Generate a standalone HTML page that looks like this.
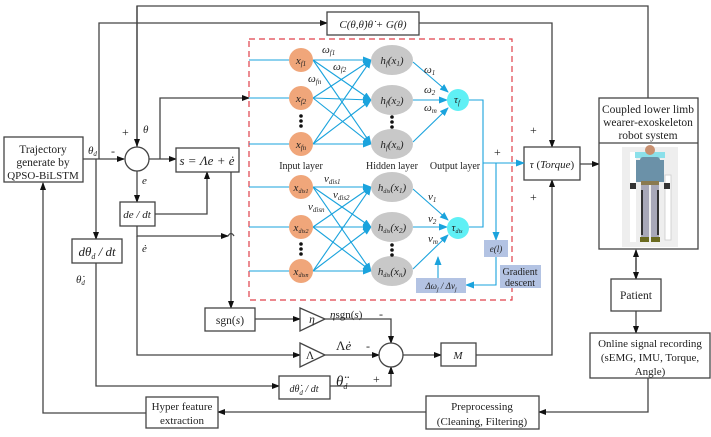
<!DOCTYPE html>
<html><head><meta charset="utf-8"><style>
html,body{margin:0;padding:0;background:#fff}
svg{display:block}
text{font-family:"Liberation Serif","Times New Roman",serif;fill:#222}
.m{font-style:italic}
</style></head><body>
<svg width="711" height="437" viewBox="0 0 711 437" xmlns="http://www.w3.org/2000/svg">
<defs>
<marker id="a" markerWidth="8" markerHeight="8" refX="7" refY="4" orient="auto" markerUnits="userSpaceOnUse"><path d="M0,1 L8,4 L0,7 z" fill="#111"/></marker>
<marker id="c" markerWidth="9" markerHeight="8" refX="8" refY="4" orient="auto" markerUnits="userSpaceOnUse"><path d="M0,0.5 L9,4 L0,7.5 z" fill="#1aa3dd"/></marker>
</defs>
<g fill="none" stroke="#444" stroke-width="1.3">
<polyline points="137,147 137,6 648,6 648,98"/>
<polyline points="99,159 99,23 327,23" marker-end="url(#a)"/>
<polyline points="419,23 552,23 552,147" marker-end="url(#a)"/>
<line x1="137" y1="6" x2="137" y2="146" marker-end="url(#a)"/>
<line x1="83" y1="159" x2="124" y2="159" marker-end="url(#a)"/>
<polyline points="96,159 96,239" marker-end="url(#a)"/>
<polyline points="96,263 96,386 279,386" marker-end="url(#a)"/>
<line x1="149" y1="159" x2="176" y2="159" marker-end="url(#a)"/>
<polyline points="160,159 160,98 249,98" marker-end="url(#a)"/>
<line x1="137" y1="171" x2="137" y2="202" marker-end="url(#a)"/>
<polyline points="155,214 207,214 207,172" marker-end="url(#a)"/>
<polyline points="231,172 231,308" marker-end="url(#a)"/>
<polyline points="137,226 137,236 228,236 M234,236 248,236" marker-end="url(#a)"/>
<path d="M228,236 Q231,231 234,236"/>
<polyline points="137,236 137,355 300,355" marker-end="url(#a)"/>
<line x1="255" y1="319" x2="300" y2="319" marker-end="url(#a)"/>
<polyline points="325,319 391,319 391,343" marker-end="url(#a)"/>
<line x1="325" y1="355" x2="379" y2="355" marker-end="url(#a)"/>
<polyline points="330,386 391,386 391,367" marker-end="url(#a)"/>
<line x1="403" y1="355" x2="441" y2="355" marker-end="url(#a)"/>
<polyline points="476,355 552,355 552,180" marker-end="url(#a)"/>
<line x1="580" y1="164" x2="599" y2="164" marker-end="url(#a)"/>
<line x1="636" y1="258" x2="636" y2="279" marker-end="url(#a)"/>
<line x1="636" y1="270" x2="636" y2="250" marker-end="url(#a)"/>
<line x1="636" y1="311" x2="636" y2="333" marker-end="url(#a)"/>
<polyline points="648,378 648,412 539,412" marker-end="url(#a)"/>
<line x1="426" y1="412" x2="218" y2="412" marker-end="url(#a)"/>
<polyline points="146,413 43,413 43,183" marker-end="url(#a)"/>
<rect x="4" y="137" width="79" height="45" fill="#fff"/>
<rect x="327" y="12" width="92" height="23" fill="#fff"/>
<rect x="176" y="148" width="63" height="24" fill="#fff"/>
<rect x="120" y="202" width="35" height="24" fill="#fff"/>
<rect x="72" y="239" width="50" height="24" fill="#fff"/>
<rect x="524" y="147" width="56" height="33" fill="#fff"/>
<rect x="599" y="98" width="99" height="151" fill="#fff"/>
<line x1="599" y1="143" x2="698" y2="143"/>
<rect x="611" y="279" width="50" height="32" fill="#fff"/>
<rect x="590" y="333" width="120" height="45" fill="#fff"/>
<rect x="426" y="396" width="113" height="33" fill="#fff"/>
<rect x="146" y="397" width="72" height="31" fill="#fff"/>
<rect x="205" y="308" width="50" height="23" fill="#fff"/>
<rect x="441" y="343" width="35" height="23" fill="#fff"/>
<rect x="279" y="376" width="51" height="23" fill="#fff"/>
<polygon points="300,308 325,319 300,331" fill="#fff"/>
<polygon points="300,343 325,355 300,367" fill="#fff"/>
<circle cx="137" cy="159" r="12" fill="#fff"/>
<circle cx="391" cy="355" r="12" fill="#fff"/>
</g>
<rect x="249" y="39" width="263" height="261" fill="none" stroke="#e0404a" stroke-width="1.2" stroke-dasharray="6,4"/>
<g stroke="#1aa3dd" stroke-width="1.1" fill="none">
<line x1="249" y1="60" x2="289" y2="60"/><line x1="249" y1="98" x2="289" y2="98"/><line x1="249" y1="144" x2="289" y2="144"/>
<line x1="249" y1="187" x2="289" y2="187"/><line x1="249" y1="227" x2="289" y2="227"/><line x1="249" y1="271" x2="289" y2="271"/>
<g marker-end="url(#c)">
<line x1="313" y1="60" x2="371" y2="60"/><line x1="313" y1="60" x2="371" y2="100"/><line x1="313" y1="60" x2="371" y2="144"/>
<line x1="313" y1="98" x2="371" y2="60"/><line x1="313" y1="98" x2="371" y2="100"/><line x1="313" y1="98" x2="371" y2="144"/>
<line x1="313" y1="144" x2="371" y2="60"/><line x1="313" y1="144" x2="371" y2="100"/><line x1="313" y1="144" x2="371" y2="144"/>
<line x1="313" y1="187" x2="371" y2="187"/><line x1="313" y1="187" x2="371" y2="227"/><line x1="313" y1="187" x2="371" y2="271"/>
<line x1="313" y1="227" x2="371" y2="187"/><line x1="313" y1="227" x2="371" y2="227"/><line x1="313" y1="227" x2="371" y2="271"/>
<line x1="313" y1="271" x2="371" y2="187"/><line x1="313" y1="271" x2="371" y2="227"/><line x1="313" y1="271" x2="371" y2="271"/>
<line x1="413" y1="62" x2="448" y2="92"/><line x1="413" y1="100" x2="447" y2="100"/><line x1="413" y1="142" x2="448" y2="108"/>
<line x1="413" y1="189" x2="448" y2="220"/><line x1="413" y1="227" x2="447" y2="227"/><line x1="413" y1="269" x2="448" y2="235"/>
<polyline points="483,163 524,163"/>
<polyline points="496,163 496,240"/>
<polyline points="496,257 496,285 466,285"/>
<line x1="438" y1="278" x2="438" y2="257"/>
</g>
<polyline points="469,100 483,100 483,227 469,227"/>
</g>
<g fill="#f0a67a"><circle cx="301" cy="60" r="12"/><circle cx="301" cy="98" r="12"/><circle cx="301" cy="144" r="12"/><circle cx="301" cy="187" r="12"/><circle cx="301" cy="227" r="12"/><circle cx="301" cy="271" r="12"/></g>
<g fill="#c8c8c8"><ellipse cx="392" cy="60" rx="21" ry="15"/><ellipse cx="392" cy="100" rx="21" ry="15"/><ellipse cx="392" cy="144" rx="21" ry="15"/><ellipse cx="392" cy="187" rx="21" ry="15"/><ellipse cx="392" cy="227" rx="21" ry="15"/><ellipse cx="392" cy="271" rx="21" ry="15"/></g>
<g fill="#5ff0f5"><circle cx="458" cy="100" r="11"/><circle cx="458" cy="228" r="11"/></g>
<g fill="#111"><circle cx="301" cy="116" r="1.8"/><circle cx="301" cy="121" r="1.8"/><circle cx="301" cy="126" r="1.8"/>
<circle cx="392" cy="117" r="1.8"/><circle cx="392" cy="122" r="1.8"/><circle cx="392" cy="127" r="1.8"/>
<circle cx="301" cy="244" r="1.8"/><circle cx="301" cy="249" r="1.8"/><circle cx="301" cy="254" r="1.8"/>
<circle cx="392" cy="245" r="1.8"/><circle cx="392" cy="250" r="1.8"/><circle cx="392" cy="255" r="1.8"/></g>
<g fill="#b3c3e3"><rect x="484" y="240" width="24" height="17"/><rect x="500" y="265" width="41" height="23"/><rect x="416" y="278" width="50" height="15"/></g>
<g>
<rect x="622" y="147" width="56" height="100" fill="#eeeeee"/>
<rect x="630" y="152" width="6" height="90" fill="#fff"/>
<rect x="665" y="175" width="6" height="65" fill="#fff" stroke="#ccc" stroke-width="0.8"/>
<rect x="635" y="152" width="30" height="6" fill="#8be0ea"/>
<circle cx="650" cy="150" r="5" fill="#c89070"/>
<rect x="640" y="157" width="20" height="25" rx="3" fill="#6b91a8"/>
<rect x="636" y="160" width="5" height="22" fill="#6b91a8"/><rect x="659" y="160" width="5" height="22" fill="#6b91a8"/>
<rect x="641" y="181" width="18" height="4" fill="#8a7a50"/>
<rect x="641" y="185" width="8" height="52" fill="#a8a8b8"/><rect x="651" y="185" width="8" height="52" fill="#a8a8b8"/>
<rect x="641" y="190" width="2" height="45" fill="#333"/><rect x="657" y="190" width="2" height="45" fill="#333"/>
<rect x="630" y="183" width="6" height="6" fill="#333"/><rect x="664" y="183" width="6" height="6" fill="#333"/>
<rect x="640" y="237" width="9" height="5" fill="#6a6a20"/><rect x="651" y="237" width="9" height="5" fill="#6a6a20"/>
</g>
<g font-size="11.5" text-anchor="middle">
<text x="43" y="153">Trajectory</text><text x="43" y="166">generate by</text><text x="43" y="179" font-size="11">QPSO-BiLSTM</text>
<text x="648" y="113" font-size="11.5">Coupled lower limb</text><text x="648" y="126" font-size="11.5">wearer-exoskeleton</text><text x="648" y="139">robot system</text>
<text x="636" y="299">Patient</text>
<text x="650" y="347" font-size="11">Online signal recording</text><text x="650" y="361" font-size="11">(sEMG, IMU, Torque,</text><text x="650" y="375" font-size="11">Angle)</text>
<text x="482" y="410" font-size="11">Preprocessing</text><text x="482" y="425" font-size="11">(Cleaning,  Filtering)</text>
<text x="182" y="410" font-size="11">Hyper feature</text><text x="182" y="424" font-size="11">extraction</text>
<text x="230" y="324">sgn(<tspan class="m">s</tspan>)</text>
<text x="552" y="168" font-size="11"><tspan class="m">τ</tspan> (<tspan class="m">Torque</tspan>)</text>
<text x="373" y="28" class="m" font-size="11">C(θ,θ̇)θ̇ + G(θ)</text>
<text x="207" y="165" font-size="13" class="m">s = Λe + ė</text>
<text x="137" y="218" class="m" font-size="11">de / dt</text>
<text x="97" y="256" font-size="13" class="m">dθ<tspan font-size="8" dy="3">d</tspan><tspan dy="-3"> / dt</tspan></text>
<text x="304" y="392" font-size="10" class="m">dθ̇<tspan font-size="7" dy="3">d</tspan><tspan dy="-3"> / dt</tspan></text>
<text x="458" y="359" class="m" font-size="11">M</text>
<text x="312" y="323" class="m">η</text><text x="310" y="359">Λ</text>
<text x="496" y="252" font-size="9" class="m">e(l)</text>
<text x="520" y="275" font-size="10">Gradient</text><text x="520" y="286" font-size="10">descent</text>
<text x="441" y="289" font-size="9" class="m">Δω<tspan font-size="6" dy="2">j</tspan><tspan dy="-2"> / Δv</tspan><tspan font-size="6" dy="2">j</tspan></text>
<text x="301" y="169" font-size="10">Input layer</text><text x="392" y="169" font-size="10">Hidden layer</text><text x="455" y="169" font-size="10">Output layer</text>
</g>
<g font-size="11" text-anchor="middle" font-style="italic">
<text x="301" y="64">x<tspan font-size="7" dy="2">f1</tspan></text>
<text x="301" y="102">x<tspan font-size="7" dy="2">f2</tspan></text>
<text x="301" y="148">x<tspan font-size="7" dy="2">fn</tspan></text>
<text x="301" y="191">x<tspan font-size="6" dy="2">dis1</tspan></text>
<text x="301" y="231">x<tspan font-size="6" dy="2">dis2</tspan></text>
<text x="301" y="275">x<tspan font-size="6" dy="2">disn</tspan></text>
<text x="392" y="64">h<tspan font-size="7" dy="2">f</tspan><tspan dy="-2">(x</tspan><tspan font-size="7" dy="2">1</tspan><tspan dy="-2">)</tspan></text>
<text x="392" y="104">h<tspan font-size="7" dy="2">f</tspan><tspan dy="-2">(x</tspan><tspan font-size="7" dy="2">2</tspan><tspan dy="-2">)</tspan></text>
<text x="392" y="148">h<tspan font-size="7" dy="2">f</tspan><tspan dy="-2">(x</tspan><tspan font-size="7" dy="2">n</tspan><tspan dy="-2">)</tspan></text>
<text x="392" y="191">h<tspan font-size="6" dy="2">dis</tspan><tspan dy="-2">(x</tspan><tspan font-size="7" dy="2">1</tspan><tspan dy="-2">)</tspan></text>
<text x="392" y="231">h<tspan font-size="6" dy="2">dis</tspan><tspan dy="-2">(x</tspan><tspan font-size="7" dy="2">2</tspan><tspan dy="-2">)</tspan></text>
<text x="392" y="275">h<tspan font-size="6" dy="2">dis</tspan><tspan dy="-2">(x</tspan><tspan font-size="7" dy="2">n</tspan><tspan dy="-2">)</tspan></text>
<text x="457" y="103">τ<tspan font-size="7" dy="2">f</tspan></text>
<text x="457" y="231">τ<tspan font-size="6" dy="2">dis</tspan></text>
</g>
<g font-size="11" font-style="italic">
<text x="322" y="53">ω<tspan font-size="7" dy="2">f1</tspan></text>
<text x="333" y="70">ω<tspan font-size="7" dy="2">f2</tspan></text>
<text x="308" y="82">ω<tspan font-size="7" dy="2">fn</tspan></text>
<text x="424" y="73">ω<tspan font-size="7" dy="2">1</tspan></text>
<text x="424" y="93">ω<tspan font-size="7" dy="2">2</tspan></text>
<text x="424" y="111">ω<tspan font-size="7" dy="2">m</tspan></text>
<text x="324" y="182">v<tspan font-size="7" dy="2">dis1</tspan></text>
<text x="333" y="198">v<tspan font-size="7" dy="2">dis2</tspan></text>
<text x="308" y="210">v<tspan font-size="7" dy="2">disn</tspan></text>
<text x="428" y="200">v<tspan font-size="7" dy="2">1</tspan></text>
<text x="428" y="222">v<tspan font-size="7" dy="2">2</tspan></text>
<text x="428" y="242">v<tspan font-size="7" dy="2">m</tspan></text>
<text x="88" y="154">θ<tspan font-size="7" dy="2">d</tspan></text>
<text x="143" y="133">θ</text>
<text x="142" y="184">e</text>
<text x="142" y="252">ė</text>
<text x="76" y="283">θ̇<tspan font-size="7" dy="2">d</tspan></text>
<text x="330" y="318" font-size="11">η<tspan font-style="normal">sgn(</tspan>s<tspan font-style="normal">)</tspan></text>
<text x="336" y="350" font-style="normal" font-size="13">Λ<tspan font-style="italic">ė</tspan></text>
<text x="336" y="386" font-size="15">θ̈<tspan font-size="8" dy="3">d</tspan></text>
</g>
<g font-size="12">
<text x="122" y="136">+</text><text x="111" y="155">-</text>
<text x="379" y="318">-</text><text x="366" y="350">-</text><text x="373" y="383">+</text>
<text x="494" y="156">+</text><text x="530" y="134">+</text><text x="530" y="201">+</text>
</g>
</svg>
</body></html>
